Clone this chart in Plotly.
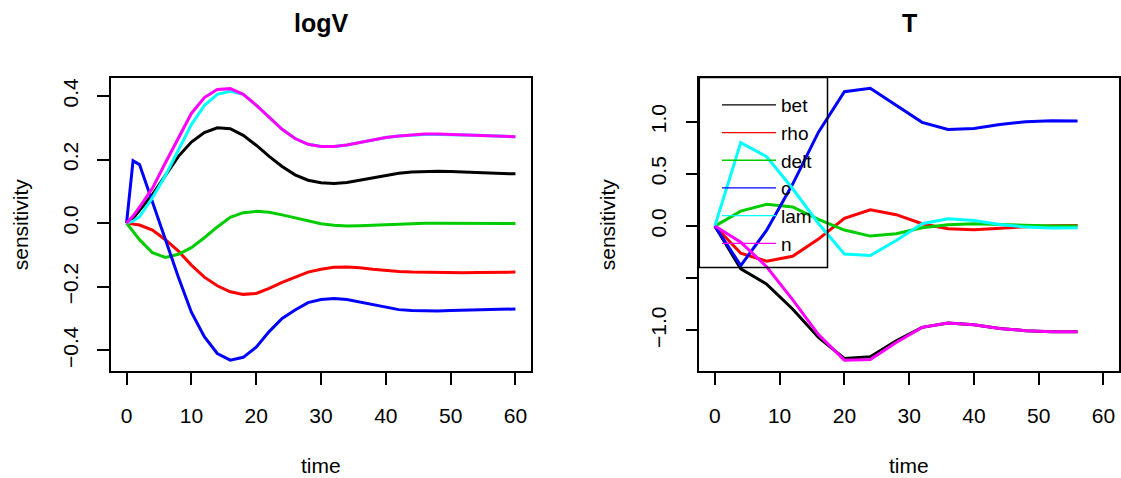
import plotly.graph_objects as go

# ---- data ----
series_names = ["bet", "rho", "delt", "c", "lam", "n"]
series_colors = ["#000000", "#FF0000", "#00CD00", "#0000FF", "#00FFFF", "#FF00FF"]

time_logV = [0, 1, 2, 4, 6, 8, 10, 12, 14, 16, 18, 20, 22, 24, 26, 28, 30,
             32, 34, 36, 38, 40, 42, 44, 46, 48, 50, 52, 54, 56, 58, 60]
logV_bet = [0, 0.015, 0.04, 0.09, 0.15, 0.21, 0.255, 0.285, 0.30, 0.297, 0.276, 0.245,
            0.21, 0.178, 0.152, 0.135, 0.127, 0.125, 0.128, 0.135, 0.143, 0.15, 0.157,
            0.161, 0.163, 0.163, 0.162, 0.16, 0.158, 0.157, 0.156, 0.155]
logV_rho = [0, -0.002, -0.006, -0.022, -0.052, -0.088, -0.132, -0.17, -0.197, -0.216,
            -0.224, -0.221, -0.205, -0.186, -0.169, -0.154, -0.145, -0.139, -0.138,
            -0.14, -0.145, -0.149, -0.152, -0.154, -0.155, -0.156, -0.156, -0.156,
            -0.155, -0.155, -0.154, -0.154]
logV_delt = [0, -0.025, -0.052, -0.093, -0.108, -0.098, -0.077, -0.046, -0.012, 0.018,
             0.033, 0.037, 0.034, 0.026, 0.016, 0.006, -0.002, -0.007, -0.009, -0.008,
             -0.006, -0.004, -0.002, -0.001, 0, 0, 0, 0, 0, -0.001, -0.001, -0.001]
logV_c = [0, 0.196, 0.184, 0.065, -0.055, -0.17, -0.28, -0.357, -0.41, -0.431, -0.422,
          -0.39, -0.341, -0.3, -0.273, -0.25, -0.24, -0.237, -0.24, -0.248, -0.258,
          -0.266, -0.272, -0.275, -0.276, -0.276, -0.275, -0.274, -0.273, -0.272,
          -0.271, -0.27]
logV_lam = [0, 0.006, 0.02, 0.08, 0.15, 0.23, 0.31, 0.37, 0.405, 0.415, 0.405, 0.371,
            0.332, 0.295, 0.266, 0.248, 0.241, 0.241, 0.246, 0.254, 0.263, 0.269,
            0.274, 0.277, 0.279, 0.279, 0.279, 0.277, 0.276, 0.275, 0.273, 0.272]
logV_n = [0, 0.022, 0.05, 0.11, 0.19, 0.27, 0.345, 0.395, 0.42, 0.423, 0.405, 0.371,
          0.332, 0.295, 0.266, 0.248, 0.241, 0.241, 0.246, 0.254, 0.263, 0.269,
          0.274, 0.277, 0.28, 0.28, 0.279, 0.277, 0.276, 0.275, 0.273, 0.272]

time_T = [0, 4, 8, 12, 16, 20, 24, 28, 32, 36, 40, 44, 48, 52, 56]
T_bet = [0, -0.41, -0.556, -0.795, -1.067, -1.268, -1.253, -1.099, -0.971, -0.929,
         -0.946, -0.981, -1.003, -1.013, -1.013]
T_rho = [0, -0.26, -0.337, -0.29, -0.125, 0.075, 0.156, 0.109, 0.022, -0.026,
         -0.035, -0.019, -0.006, 0.003, 0.006]
T_delt = [0, 0.143, 0.209, 0.183, 0.065, -0.038, -0.096, -0.074, -0.016, 0.013,
          0.022, 0.016, 0.003, 0, 0]
T_c = [0, -0.378, -0.04, 0.40, 0.90, 1.288, 1.32, 1.16, 0.994, 0.926, 0.936, 0.974,
       1.0, 1.01, 1.006]
T_lam = [0, 0.80, 0.665, 0.36, 0.025, -0.268, -0.282, -0.138, 0.022, 0.07, 0.054,
         0.016, -0.01, -0.019, -0.016]
T_n = [0, -0.154, -0.39, -0.705, -1.04, -1.285, -1.279, -1.115, -0.971, -0.929,
       -0.946, -0.981, -1.003, -1.013, -1.013]

x_ticks = [0, 10, 20, 30, 40, 50, 60]
logV_yticks = [-0.4, -0.2, 0.0, 0.2, 0.4]
logV_yticktext = ["\u22120.4", "\u22120.2", "0.0", "0.2", "0.4"]
T_yticks = [-1.0, -0.5, 0.0, 0.5, 1.0]
T_yticktext = ["\u22121.0", "", "0.0", "0.5", "1.0"]

panel_titles = ["logV", "T"]
x_label = "time"
y_label = "sensitivity"

# ---- figure ----
W, H = 1121, 478
FONT = "Liberation Sans, Arial, Helvetica, sans-serif"

def px_x(p):
    return p / W

def px_y(p):
    return 1 - p / H

fig = go.Figure()

logV_series = [logV_bet, logV_rho, logV_delt, logV_c, logV_lam, logV_n]
T_series = [T_bet, T_rho, T_delt, T_c, T_lam, T_n]

for name, col, ys in zip(series_names, series_colors, logV_series):
    fig.add_trace(go.Scatter(x=time_logV, y=ys, mode="lines", name=name,
                             line=dict(color=col, width=3), showlegend=False,
                             xaxis="x", yaxis="y"))
for name, col, ys in zip(series_names, series_colors, T_series):
    fig.add_trace(go.Scatter(x=time_T, y=ys, mode="lines", name=name,
                             line=dict(color=col, width=3), showlegend=False,
                             xaxis="x2", yaxis="y2"))
# legend entries (thin lines as in the reference legend)
for name, col in zip(series_names, series_colors):
    fig.add_trace(go.Scatter(x=[None], y=[None], mode="lines", name=name,
                             line=dict(color=col, width=1.3), showlegend=True,
                             xaxis="x2", yaxis="y2"))

L1, R1 = 111, 531
L2, R2 = 699.3, 1119
TOP, BOT = 77.5, 371

axis_common = dict(showline=True, mirror=True, linecolor="black", linewidth=1.5,
                   ticks="outside", ticklen=12, tickwidth=1.5, tickcolor="black",
                   showgrid=False, zeroline=False, tickmode="array",
                   tickfont=dict(family=FONT, size=21, color="black"))

fig.update_layout(
    width=W, height=H,
    margin=dict(l=0, r=0, t=0, b=0),
    paper_bgcolor="white", plot_bgcolor="white",
    font=dict(family=FONT, size=21, color="black"),
    xaxis=dict(domain=[px_x(L1), px_x(R1)], range=[-2.4, 62.4], anchor="y",
               tickvals=x_ticks, ticklabelstandoff=13, **axis_common),
    yaxis=dict(domain=[px_y(BOT), px_y(TOP)], range=[-0.465, 0.458], anchor="x",
               tickvals=logV_yticks, ticktext=logV_yticktext, tickangle=-90,
               ticklabelstandoff=11, **axis_common),
    xaxis2=dict(domain=[px_x(L2), px_x(R2)], range=[-2.4, 62.4], anchor="y2",
                tickvals=x_ticks, ticklabelstandoff=13, **axis_common),
    yaxis2=dict(domain=[px_y(BOT), px_y(TOP)], range=[-1.389, 1.424], anchor="x2",
                tickvals=T_yticks, ticktext=T_yticktext, tickangle=-90,
                ticklabelstandoff=11, **axis_common),
    legend=dict(x=px_x(717), y=px_y(86), xanchor="left", yanchor="top",
                bgcolor="rgba(0,0,0,0)", borderwidth=0,
                font=dict(family=FONT, size=19, color="black"),
                itemwidth=54, tracegroupgap=0),
    showlegend=True,
)

# legend frame as in R (anchored to top-left corner of the plot region)
fig.add_shape(type="rect", xref="paper", yref="paper",
              x0=px_x(L2), x1=px_x(827.5), y0=px_y(267.5), y1=px_y(TOP),
              line=dict(color="black", width=1.5), fillcolor="rgba(0,0,0,0)")

# titles and axis labels
for title, (l, r) in zip(panel_titles, [(L1, R1), (L2, R2)]):
    fig.add_annotation(text="<b>%s</b>" % title, x=px_x((l + r) / 2), y=px_y(23),
                       xref="paper", yref="paper", showarrow=False,
                       xanchor="center", yanchor="middle",
                       font=dict(family=FONT, size=25, color="black"))
    fig.add_annotation(text=x_label, x=px_x((l + r) / 2), y=px_y(465),
                       xref="paper", yref="paper", showarrow=False,
                       xanchor="center", yanchor="middle",
                       font=dict(family=FONT, size=21, color="black"))
for xpos in [20, 607]:
    fig.add_annotation(text=y_label, x=px_x(xpos), y=px_y((TOP + BOT) / 2),
                       xref="paper", yref="paper", showarrow=False, textangle=-90,
                       xanchor="center", yanchor="middle",
                       font=dict(family=FONT, size=21, color="black"))

# remove the browser's default 8px page margin so the figure fills the window
fig.write_html("out.html",
               config={"displayModeBar": False},
               post_script="document.body.style.margin='0';"
                           "document.body.style.overflow='hidden';")
